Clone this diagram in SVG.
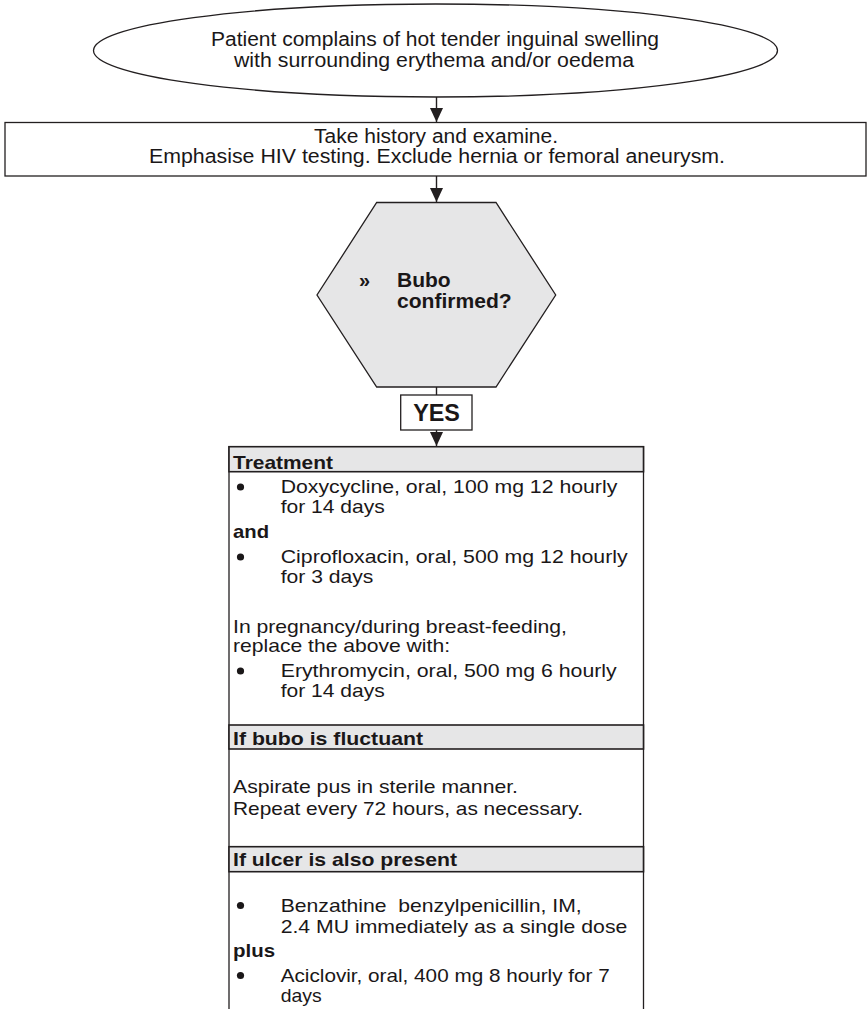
<svg xmlns="http://www.w3.org/2000/svg" width="867" height="1009" viewBox="0 0 867 1009">
  <defs>
    <style>
      .t { font-family: "Liberation Sans", Arial, sans-serif; font-size: 20px; fill: #1a1718; white-space: pre; }
      .p { font-size: 18.5px; }
      .b { font-weight: bold; }
      .c { text-anchor: middle; }
      .line { stroke: #231f20; stroke-width: 1.4; fill: none; }
      .shape { stroke: #231f20; stroke-width: 1.3; fill: #ffffff; }
      .band { stroke: #231f20; stroke-width: 1.6; fill: #e6e6e7; }
      .dot { fill: #1a1718; }
    </style>
    <marker id="arrow" viewBox="0 0 14 13" refX="14" refY="6.5" markerWidth="14" markerHeight="13" markerUnits="userSpaceOnUse" orient="auto">
      <path d="M0,0 L14,6.5 L0,13 Z" fill="#231f20"/>
    </marker>
  </defs>

  <rect width="867" height="1009" fill="#ffffff"/>

  <!-- connectors -->
  <g id="connectors">
    <line class="line" x1="436.5" y1="97" x2="436.5" y2="122" marker-end="url(#arrow)"/>
    <line class="line" x1="436.5" y1="176" x2="436.5" y2="202" marker-end="url(#arrow)"/>
    <line class="line" x1="436.5" y1="387" x2="436.5" y2="395"/>
    <line class="line" x1="436.5" y1="430" x2="436.5" y2="446" marker-end="url(#arrow)"/>
  </g>

  <!-- start: presenting complaint -->
  <g id="complaint">
    <ellipse class="shape" cx="435.5" cy="50.5" rx="342" ry="46.5"/>
    <text class="t c" x="435" y="46" textLength="448" lengthAdjust="spacingAndGlyphs">Patient complains of hot tender inguinal swelling</text>
    <text class="t c" x="434" y="66.7" textLength="400" lengthAdjust="spacingAndGlyphs">with surrounding erythema and/or oedema</text>
  </g>

  <!-- history and examination -->
  <g id="history">
    <rect class="shape" x="5" y="122.5" width="861" height="53.5"/>
    <text class="t c" x="436" y="142.7" textLength="244" lengthAdjust="spacingAndGlyphs">Take history and examine.</text>
    <text class="t c" x="437" y="163.3" textLength="576" lengthAdjust="spacingAndGlyphs">Emphasise HIV testing. Exclude hernia or femoral aneurysm.</text>
  </g>

  <!-- decision -->
  <g id="decision">
    <polygon points="376.7,202.5 496,202.5 555.7,295 496,387 376.7,387 317,295" fill="#e6e6e7" stroke="#231f20" stroke-width="1.3"/>
    <text class="t b" x="359" y="287.3">»</text>
    <text class="t b" x="397" y="287.3" textLength="53.7" lengthAdjust="spacingAndGlyphs">Bubo</text>
    <text class="t b" x="397" y="308.3" textLength="114.7" lengthAdjust="spacingAndGlyphs">confirmed?</text>
  </g>

  <!-- yes label -->
  <g id="yes">
    <rect class="shape" x="400.7" y="395" width="71.3" height="35"/>
    <text class="t b c" x="436.5" y="421" style="font-size:24px" textLength="46.7" lengthAdjust="spacingAndGlyphs">YES</text>
  </g>

  <!-- management panel -->
  <g id="management">
    <rect class="shape" x="229" y="446.7" width="414.5" height="570"/>

    <rect class="band" x="229" y="446.7" width="414.5" height="25"/>
    <text class="t p b" x="233" y="468.8" textLength="100" lengthAdjust="spacingAndGlyphs">Treatment</text>

    <circle class="dot" cx="240.5" cy="487" r="3.6"/>
    <text class="t p" x="280.7" y="493.3" textLength="336.6" lengthAdjust="spacingAndGlyphs">Doxycycline, oral, 100 mg 12 hourly</text>
    <text class="t p" x="280.7" y="512.7" textLength="104" lengthAdjust="spacingAndGlyphs">for 14 days</text>
    <text class="t p b" x="233" y="537.7" textLength="36" lengthAdjust="spacingAndGlyphs">and</text>
    <circle class="dot" cx="240.5" cy="557" r="3.6"/>
    <text class="t p" x="280.7" y="563.3" textLength="347" lengthAdjust="spacingAndGlyphs">Ciprofloxacin, oral, 500 mg 12 hourly</text>
    <text class="t p" x="280.7" y="582.7" textLength="92.6" lengthAdjust="spacingAndGlyphs">for 3 days</text>

    <text class="t p" x="233" y="632.7" textLength="334" lengthAdjust="spacingAndGlyphs">In pregnancy/during breast-feeding,</text>
    <text class="t p" x="233" y="651.7" textLength="217" lengthAdjust="spacingAndGlyphs">replace the above with:</text>
    <circle class="dot" cx="240.5" cy="671" r="3.6"/>
    <text class="t p" x="280.7" y="677.3" textLength="336" lengthAdjust="spacingAndGlyphs">Erythromycin, oral, 500 mg 6 hourly</text>
    <text class="t p" x="280.7" y="696.7" textLength="104" lengthAdjust="spacingAndGlyphs">for 14 days</text>

    <rect class="band" x="229" y="725" width="414.5" height="24"/>
    <text class="t p b" x="233" y="745" textLength="190" lengthAdjust="spacingAndGlyphs">If bubo is fluctuant</text>

    <text class="t p" x="233" y="793" textLength="285" lengthAdjust="spacingAndGlyphs">Aspirate pus in sterile manner.</text>
    <text class="t p" x="233" y="815" textLength="350" lengthAdjust="spacingAndGlyphs">Repeat every 72 hours, as necessary.</text>

    <rect class="band" x="229" y="846.7" width="414.5" height="25"/>
    <text class="t p b" x="233" y="866" textLength="224" lengthAdjust="spacingAndGlyphs">If ulcer is also present</text>

    <circle class="dot" cx="240.5" cy="905.5" r="3.6"/>
    <text class="t p" x="280.7" y="911.7" textLength="301" lengthAdjust="spacingAndGlyphs">Benzathine  benzylpenicillin, IM,</text>
    <text class="t p" x="280.7" y="933" textLength="346.6" lengthAdjust="spacingAndGlyphs">2.4 MU immediately as a single dose</text>
    <text class="t p b" x="233" y="956.7" textLength="42" lengthAdjust="spacingAndGlyphs">plus</text>
    <circle class="dot" cx="240.5" cy="975.5" r="3.6"/>
    <text class="t p" x="280.7" y="981.7" textLength="329" lengthAdjust="spacingAndGlyphs">Aciclovir, oral, 400 mg 8 hourly for 7</text>
    <text class="t p" x="280.7" y="1001.7" textLength="41" lengthAdjust="spacingAndGlyphs">days</text>
  </g>
</svg>
